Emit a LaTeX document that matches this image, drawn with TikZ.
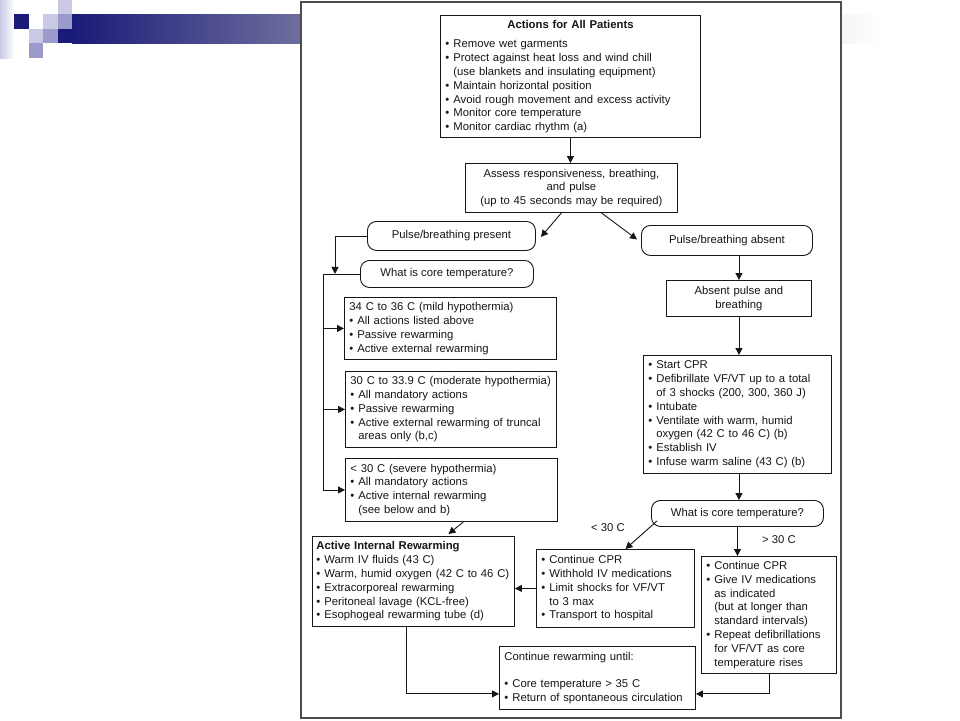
\documentclass[tikz,border=0pt]{standalone}
\usepackage{fontspec}
\setmainfont{Liberation Sans}
\usetikzlibrary{arrows.meta,calc}
\setlength{\parindent}{0pt}
\definecolor{navy}{HTML}{1A1A78}
\definecolor{barend}{HTML}{6E6E9E}
\definecolor{lavlight}{HTML}{C9C9E5}
\definecolor{lavmid}{HTML}{9A9ACB}
\definecolor{ink}{HTML}{161616}
\newcommand{\bl}{\textbullet\hspace{4pt}}
\newcommand{\ind}{\phantom{\textbullet}\hspace{4pt}}

\begin{document}
\begin{tikzpicture}[x=1pt,y=-1pt,
    box/.style={draw=ink, line width=0.9pt, anchor=north west, inner xsep=5pt, inner ysep=2pt,
      align=left, text=ink, font=\fontsize{11.3}{13.8}\selectfont},
    cbox/.style={box, align=center},
    rbox/.style={box, align=center, rounded corners=9pt},
    lbl/.style={text=ink, font=\fontsize{11.3}{13.8}\selectfont},
    line/.style={draw=ink, line width=0.9pt},
    arr/.style={line, -{Triangle[length=7pt,width=7pt]}}]
  \useasboundingbox (0,0) rectangle (960,720);
  % slide corner
  \shade[left color=lavlight, right color=white] (0,0) rectangle (14,58);
  \fill[navy] (14,14) rectangle (29,29);
  \fill[lavlight] (29,29) rectangle (43,43);
  \fill[lavlight] (43,14) rectangle (58,29);
  \fill[lavmid] (43,29) rectangle (58,43);
  \fill[lavmid] (29,43) rectangle (43,58);
  \fill[lavlight] (58,0) rectangle (72,14);
  \fill[lavmid] (58,14) rectangle (72,29);
  \fill[navy] (58,29) rectangle (72,43);
  \shade[left color=navy, right color=barend] (72,14) rectangle (301,43);
  \shade[left color=barend, right color=white] (300,14) rectangle (880,43);
  \draw[black!70, line width=1.2pt, fill=white] (301,2) rectangle (841,718);

  \node[box, text width=250pt, minimum height=122pt] (actions) at (440,15)
    {{\centering\textbf{Actions for All Patients}\par}\vspace{6pt}%
     \bl Remove wet garments\\
     \bl Protect against heat loss and wind chill\\
     \ind (use blankets and insulating equipment)\\
     \bl Maintain horizontal position\\
     \bl Avoid rough movement and excess activity\\
     \bl Monitor core temperature\\
     \bl Monitor cardiac rhythm (a)};
  \node[cbox, text width=202pt, minimum height=49pt] (assess) at (465,163)
    {Assess responsiveness, breathing,\\ and pulse\\ (up to 45 seconds may be required)};
  \node[rbox, minimum width=168pt, minimum height=29pt] (present) at (367,221) {Pulse/breathing present};
  \node[rbox, minimum width=171pt, minimum height=30pt] (absent) at (641,225) {Pulse/breathing absent};
  \node[rbox, minimum width=173pt, minimum height=27pt] (coreL) at (360,260) {What is core temperature?};
  \node[box, text width=202pt, minimum height=62pt] (mild) at (344,297)
    {34 C to 36 C (mild hypothermia)\\
     \bl All actions listed above\\
     \bl Passive rewarming\\
     \bl Active external rewarming};
  \node[box, text width=201pt, minimum height=76pt] (moderate) at (345,371)
    {30 C to 33.9 C (moderate hypothermia)\\
     \bl All mandatory actions\\
     \bl Passive rewarming\\
     \bl Active external rewarming of truncal\\
     \ind areas only (b,c)};
  \node[box, text width=202pt, minimum height=63pt] (severe) at (345,458)
    {< 30 C (severe hypothermia)\\
     \bl All mandatory actions\\
     \bl Active internal rewarming\\
     \ind (see below and b)};
  \node[box, inner xsep=4pt, text width=194pt, minimum height=90pt] (airw) at (312,536)
    {\textbf{Active Internal Rewarming}\\
     \bl Warm IV fluids (43 C)\\
     \mbox{\bl Warm, humid oxygen (42 C to 46 C)}\\
     \bl Extracorporeal rewarming\\
     \bl Peritoneal lavage (KCL-free)\\
     \bl Esophogeal rewarming tube (d)};
  \node[cbox, text width=135pt, minimum height=36pt] (apb) at (666,280) {Absent pulse and\\ breathing};
  \node[box, text width=178pt, minimum height=118pt] (cpr) at (643,355)
    {\bl Start CPR\\
     \bl Defibrillate VF/VT up to a total\\
     \ind of 3 shocks (200, 300, 360 J)\\
     \bl Intubate\\
     \bl Ventilate with warm, humid\\
     \ind oxygen (42 C to 46 C) (b)\\
     \bl Establish IV\\
     \bl Infuse warm saline (43 C) (b)};
  \node[rbox, minimum width=172pt, minimum height=26pt] (coreR) at (651,500) {What is core temperature?};
  \node[box, text width=148pt, minimum height=78pt] (cold) at (536,549)
    {\bl Continue CPR\\
     \bl Withhold IV medications\\
     \bl Limit shocks for VF/VT\\
     \ind to 3 max\\
     \bl Transport to hospital};
  \node[box, text width=125pt, minimum height=117pt] (warm) at (701,556)
    {\bl Continue CPR\\
     \bl Give IV medications\\
     \ind as indicated\\
     \ind (but at longer than\\
     \ind standard intervals)\\
     \bl Repeat defibrillations\\
     \ind for VF/VT as core\\
     \ind temperature rises};
  \node[box, text width=186pt, minimum height=63pt] (until) at (499,646)
    {Continue rewarming until:\\[14pt]
     \bl Core temperature > 35 C\\
     \bl Return of spontaneous circulation};
  \node[lbl] (lo) at (608,528) {< 30 C};
  \node[lbl] (hi) at (779,540) {> 30 C};

  \draw[arr] (actions.south) -- (actions.south |- assess.north);
  \draw[arr] ($(assess.south)+(-10,0)$) -- ($(present.east)+(5,1)$);
  \draw[arr] ($(assess.south)+(30,0)$) -- ($(absent.west)+(-4,-1)$);
  \draw[arr] (present.west) -| ($(coreL.west)+(-25,0)$);
  \draw[line] (coreL.west) -- ++(-37,0) coordinate (trunk) -- (trunk |- severe.west);
  \draw[arr] (trunk |- mild.west) -- (mild.west);
  \draw[arr] (trunk |- moderate.west) -- (moderate.west);
  \draw[arr] (trunk |- severe.west) -- (severe.west);
  \draw[arr] ($(severe.south)+(12,0)$) -- ($(airw.north)+(35,-2)$);
  \draw[arr] (absent.south -| apb.north) -- (apb.north);
  \draw[arr] (apb.south) -- (apb.south |- cpr.north);
  \draw[arr] (apb.south |- cpr.south) -- (apb.south |- coreR.north);
  \draw[arr] ($(coreR.south west)+(6,-6)$) -- ($(cold.north)+(10,0)$);
  \draw[arr] (coreR.south) -- (coreR.south |- warm.north);
  \draw[arr] (cold.west) -- (cold.west -| airw.east);
  \draw[arr] ($(airw.south)+(-7,0)$) |- ($(until.south west)+(0,-16)$);
  \draw[arr] (warm.south) |- ($(until.south east)+(0,-16)$);
\end{tikzpicture}
\end{document}
